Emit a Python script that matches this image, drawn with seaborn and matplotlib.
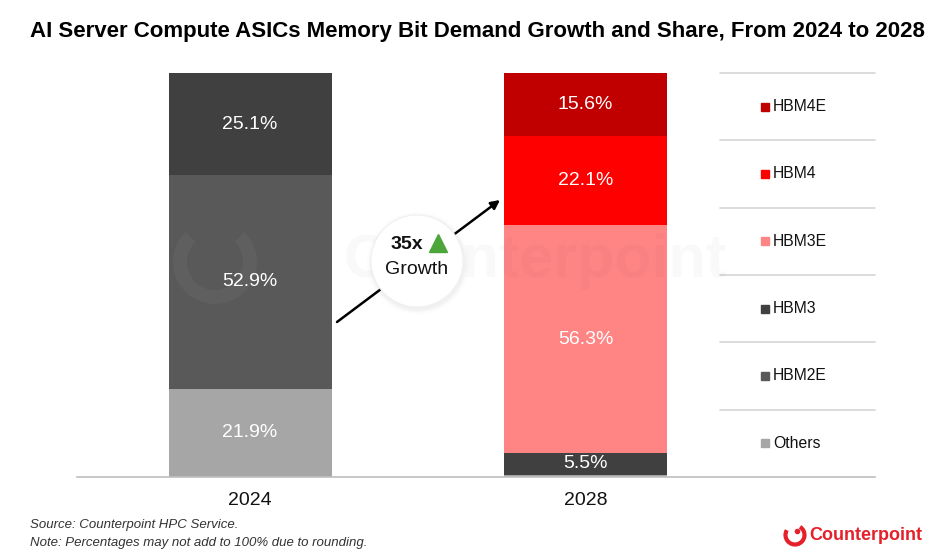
import matplotlib
matplotlib.use("Agg")
import matplotlib.pyplot as plt
import numpy as np
import pandas as pd
import seaborn as sns
from matplotlib.lines import Line2D
from matplotlib.patches import Ellipse, Arc

# ---------------- data ----------------
years = ["2024", "2028"]
series = ["Others", "HBM2E", "HBM3", "HBM3E", "HBM4", "HBM4E"]
others = [21.9, 0.5]
hbm2e = [52.9, 0.0]
hbm3 = [25.1, 5.5]
hbm3e = [0.0, 56.3]
hbm4 = [0.0, 22.1]
hbm4e = [0.0, 15.6]
growth_label = "35x"
colors = ["#A6A6A6", "#595959", "#404040", "#FF8585", "#FF0000", "#C00000"]

values = [others, hbm2e, hbm3, hbm3e, hbm4, hbm4e]

# ---------------- style ----------------
sns.set_theme(style="white")
plt.rcParams["font.family"] = ["Liberation Sans", "DejaVu Sans"]

W, H = 940, 556
fig = plt.figure(figsize=(W / 100, H / 100), dpi=100)

def fx(px):
    return px / W

def fy(py):
    return 1 - py / H

# axes area in pixels: x 77..875, y 73..477
ax = fig.add_axes([fx(77), fy(477), (875 - 77) / W, (477 - 73) / H])

bar_w = 163 / 335.5
bottom = np.zeros(len(years))
for name, vals, col in zip(series, values, colors):
    df = pd.DataFrame({"year": years, "share": vals})
    sns.barplot(data=df, x="year", y="share", bottom=bottom, color=col,
                saturation=1, width=bar_w, linewidth=0, errorbar=None, ax=ax)
    for i, v in enumerate(vals):
        if v >= 5:
            ax.text(i, bottom[i] + v / 2, f"{v:.1f}%", ha="center", va="center",
                    color="white", fontsize=14)
    bottom = bottom + np.array(vals)

x_left = -(250 - 77) / 335.5
x_right = 1 + (875 - 585.5) / 335.5
ax.set_xlim(x_left, x_right)
ax.set_ylim(0, 100)
ax.set_xlabel("")
ax.set_ylabel("")
ax.set_yticks([])
ax.tick_params(axis="x", length=0, pad=11, labelsize=14, labelcolor="#111111")
for s in ["top", "left", "right"]:
    ax.spines[s].set_visible(False)
ax.spines["bottom"].set_color("#BFBFBF")
ax.spines["bottom"].set_linewidth(1.2)

# ---------------- legend table ----------------
leg_x0 = x_left + (720 - 77) / 335.5
n = len(series)
for k in range(1, n + 1):
    ax.plot([leg_x0, x_right], [k * 100 / n, k * 100 / n], color="#D6D6D6",
            lw=1.2, clip_on=False, zorder=1)
mk_x = x_left + (765 - 77) / 335.5
tx_x = x_left + (773 - 77) / 335.5
for k, (name, col) in enumerate(zip(series, colors)):
    yc = (k + 0.5) * 100 / n
    ax.plot([mk_x], [yc], marker="s", ms=5.8, color=col, ls="none", clip_on=False)
    ax.text(tx_x, yc, name, ha="left", va="center", fontsize=11.3, color="#111111")

# ---------------- watermark ----------------
fig.text(fx(535), fy(262), "Counterpoint", ha="center", va="center",
         fontsize=44, fontweight="bold", color="#000000", alpha=0.022, zorder=0)
wm = Arc((fx(215), fy(262)), 70 / W, 70 / H, theta1=120, theta2=420,
         transform=fig.transFigure, color="#FFFFFF", alpha=0.04, lw=10)
fig.add_artist(wm)

# ---------------- growth arrow + circle ----------------
ax.annotate("", xy=(500, H - 200), xytext=(337, H - 322),
            xycoords="figure pixels", textcoords="figure pixels",
            arrowprops=dict(arrowstyle="-|>", color="black", lw=1.8,
                            mutation_scale=13, shrinkA=0, shrinkB=0),
            zorder=5, annotation_clip=False)
for r, a in [(51, 0.025), (49, 0.04), (47.5, 0.05)]:
    sh = Ellipse((fx(418), fy(263)), 2 * r / W, 2 * r / H, transform=fig.transFigure,
                 facecolor="#888888", edgecolor="none", alpha=a, zorder=6)
    fig.add_artist(sh)
circ = Ellipse((fx(417), fy(261)), 92 / W, 92 / H, transform=fig.transFigure,
               facecolor="white", edgecolor="#F0F0F0", lw=0.8, zorder=7)
fig.add_artist(circ)
fig.text(fx(407), fy(245), growth_label, ha="center", va="center", fontsize=14,
         fontweight="bold", color="#111111", zorder=8)
fig.add_artist(Line2D([fx(438)], [fy(243)], transform=fig.transFigure, marker="^",
                      ms=13, color="#4CA63A", ls="none", zorder=8))
fig.text(fx(417), fy(269), "Growth", ha="center", va="center", fontsize=14,
         color="#111111", zorder=8)

# ---------------- title & notes ----------------
fig.text(fx(477), fy(32), "AI Server Compute ASICs Memory Bit Demand Growth and Share, From 2024 to 2028",
         ha="center", va="center", fontsize=16, fontweight="bold", color="black")
fig.text(fx(30), fy(525), "Source: Counterpoint HPC Service.", ha="left", va="center",
         fontsize=9.5, style="italic", color="#333333")
fig.text(fx(30), fy(543), "Note: Percentages may not add to 100% due to rounding.",
         ha="left", va="center", fontsize=9.5, style="italic", color="#333333")

# logo
logo_red = "#E5202B"
fig.add_artist(Arc((fx(795), fy(535)), 19 / W, 19 / H, theta1=135, theta2=430,
                   transform=fig.transFigure, color=logo_red, lw=3))
fig.add_artist(Line2D([fx(797)], [fy(531)], transform=fig.transFigure, marker="o",
                      ms=3, color=logo_red, ls="none"))
fig.text(fx(866), fy(535), "Counterpoint", ha="center", va="center", fontsize=13,
         fontweight="bold", color=logo_red)

fig.savefig("out.png", dpi=100)
